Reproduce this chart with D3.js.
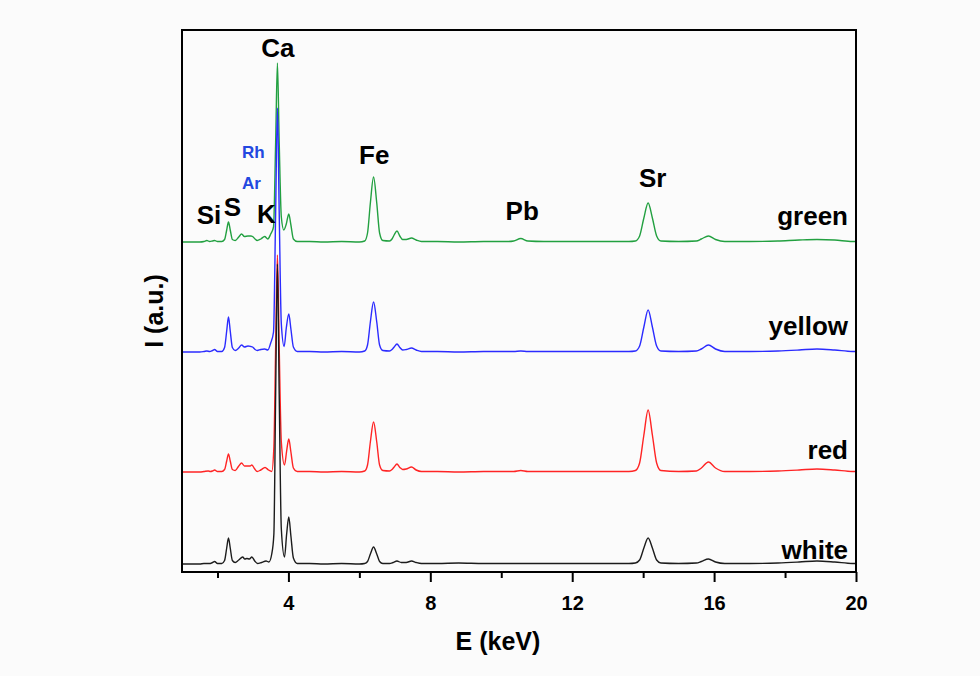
<!DOCTYPE html>
<html>
<head>
<meta charset="utf-8">
<script src="https://cdn.jsdelivr.net/npm/d3@7"></script>
<style>
  body { margin: 0; background: #fbfbfb; }
  svg text { font-family: "Liberation Sans", Arial, sans-serif; font-weight: bold; }
</style>
</head>
<body>
<div id="chart"></div>
<script>
const FRAME_WIDTH = 980;
const FRAME_HEIGHT = 676;
const MARGINS = {left: 182, right: 124, top: 30, bottom: 104};

const VIS_WIDTH = FRAME_WIDTH - MARGINS.left - MARGINS.right;
const VIS_HEIGHT = FRAME_HEIGHT - MARGINS.top - MARGINS.bottom;

// sample names (bottom to top) and vertical offsets of each spectrum
const SAMPLES = ["white", "red", "yellow", "green"];
const OFFSETS = [8, 100, 220, 330];

// spectra: [energy keV, intensity a.u.]
const WHITE = [[1.00,0],[1.50,0],[1.62,0.5],[1.74,0.5],[1.80,0.5],[1.86,1.5],[1.92,2.5],[2.00,0.5],[2.12,0.5],
  [2.20,3.5],[2.26,16],[2.31,26],[2.36,16],[2.42,3.5],[2.50,1.5],
  [2.60,4],[2.71,7],[2.77,5],[2.83,5.5],[2.90,5],[2.97,7],[3.05,3],[3.13,0.5],[3.24,1.5],[3.37,3],[3.45,2],
  [3.53,10],[3.59,30],[3.64,170],[3.69,300],[3.74,170],[3.80,35],[3.89,7],
  [3.95,30],[4.01,47],[4.07,28],[4.14,6],[4.25,0.5],[4.6,0.5],[5.0,0],[5.5,0.5],[6.0,0],
  [6.15,0.5],[6.23,2.5],[6.31,10],[6.40,17],[6.49,10],[6.57,2.5],[6.66,0.5],[6.85,0.5],
  [6.95,1.5],[7.06,3],[7.18,1.5],[7.32,1.5],[7.47,3],[7.60,1.5],[7.75,0.5],[8.2,0.5],[8.8,1],[9.5,0.5],[10.2,0.5],
  [10.55,0.5],[11.2,0.5],[12,0.5],[13,0.5],[13.6,0.5],
  [13.78,1],[13.90,4],[14.02,16],[14.14,26],[14.26,16],[14.38,4],[14.50,1],[15.0,0.5],[15.5,1],
  [15.64,2.5],[15.84,5],[16.04,2],[16.3,0.5],[17.0,0.5],[17.8,1],[18.4,2],[18.9,3],[19.4,2],[19.9,0.5],[20,0.5]];

const RED = [[1.00,0],[1.50,0],[1.62,0.5],[1.74,1],[1.80,0.5],[1.86,1],[1.92,2],[2.00,0.5],[2.12,0.5],
  [2.20,2.5],[2.26,11],[2.31,18],[2.36,11],[2.42,2.5],[2.50,1.5],
  [2.60,6],[2.68,9],[2.76,6],[2.86,6],[2.92,6],[2.97,7],[3.05,3],[3.12,0.5],[3.22,2],[3.34,4.5],[3.44,2],
  [3.53,0.5],[3.59,25],[3.64,125],[3.69,217],[3.74,125],[3.80,30],[3.89,7],
  [3.95,21],[4.01,33],[4.07,20],[4.14,4],[4.25,0.5],[4.6,0.5],[5.0,0],[5.5,0.5],[6.0,0],
  [6.15,1],[6.23,7],[6.31,30],[6.40,50],[6.49,30],[6.57,7],[6.66,1.5],[6.85,1],
  [6.92,2.5],[6.98,5],[7.06,8],[7.14,4.5],[7.22,2.5],[7.32,3],[7.47,5],[7.60,2],[7.75,0.5],[8.2,0.5],[8.8,0],[9.5,0.5],[10.2,0.5],
  [10.35,0.5],[10.55,1.5],[10.75,0.5],[11.2,0.5],[12,0.5],[13,0.5],[13.6,0.5],
  [13.78,1.5],[13.90,9],[14.02,37],[14.14,62],[14.26,37],[14.38,9],[14.50,1.5],[15.0,0.5],[15.5,1],
  [15.64,4],[15.84,10],[16.04,4],[16.3,0.5],[17.0,0.5],[17.8,1],[18.4,2],[18.9,3],[19.4,2],[19.9,0.5],[20,0.5]];

const YELLOW = [[1.00,0],[1.50,0],[1.62,0.5],[1.70,1],[1.78,0.5],[1.86,1.5],[1.92,2.5],[2.00,0.5],[2.12,0.5],
  [2.20,4.5],[2.26,21],[2.31,35],[2.36,21],[2.42,4.5],[2.50,1.5],
  [2.60,4],[2.68,7],[2.76,5],[2.86,6],[2.94,5.5],[2.99,5],[3.06,2.5],[3.12,1.5],[3.22,2.5],[3.33,3],[3.42,2],
  [3.50,9],[3.58,20],[3.64,140],[3.69,244],[3.74,140],[3.80,28],[3.88,5.5],
  [3.94,24],[4.01,38],[4.07,23],[4.14,5],[4.25,0.5],[4.6,0.5],[5.0,0],[5.5,0.5],[6.0,0],
  [6.15,1],[6.23,7],[6.31,30],[6.40,50],[6.49,30],[6.57,7],[6.66,1.5],[6.85,1],
  [6.92,2.5],[6.98,5],[7.06,8],[7.14,4.5],[7.22,2],[7.32,2.5],[7.47,4],[7.60,2],[7.75,0.5],[8.2,0.5],[8.8,0],[9.5,0.5],[10.2,0.5],
  [10.35,0.5],[10.55,1],[10.75,0.5],[11.2,0.5],[12,0.5],[13,0.5],[13.6,0.5],
  [13.78,1],[13.90,6],[14.02,25],[14.14,42],[14.26,25],[14.38,6],[14.50,1],[15.0,0.5],[15.5,1],
  [15.64,3],[15.84,7],[16.04,3],[16.3,0.5],[17.0,0.5],[17.8,1],[18.4,2],[18.9,3],[19.4,2],[19.9,0.5],[20,0.5]];

const GREEN = [[1.00,0],[1.50,0],[1.62,0.5],[1.70,1.5],[1.78,0.5],[1.86,1],[1.92,1.5],[2.00,0.5],[2.12,0.5],
  [2.20,2.5],[2.26,12],[2.31,20],[2.36,12],[2.42,2.5],[2.50,1.5],
  [2.60,5],[2.68,8],[2.76,5.5],[2.86,6],[2.94,6],[2.99,5.5],[3.06,3],[3.12,1.5],[3.22,3],[3.33,5.5],[3.42,3],
  [3.50,8],[3.58,15],[3.64,100],[3.69,179],[3.74,100],[3.80,25],[3.87,12],
  [3.94,18],[4.01,28],[4.07,17],[4.14,3],[4.25,0.5],[4.6,0.5],[5.0,0],[5.5,0.5],[6.0,0],
  [6.15,1],[6.23,9],[6.31,39],[6.40,65],[6.49,39],[6.57,9],[6.66,1.5],[6.85,1],
  [6.92,3],[6.98,7],[7.06,11],[7.14,6],[7.22,2.5],[7.32,2.5],[7.47,4],[7.60,2],[7.75,0.5],[8.2,0.5],[8.8,0],[9.5,0.5],[10.2,0.5],
  [10.35,1],[10.55,3.5],[10.75,1],[11.2,0.5],[12,0.5],[13,0.5],[13.6,0.5],
  [13.78,1],[13.90,6],[14.02,24],[14.14,39],[14.26,24],[14.38,6],[14.50,1],[15.0,0.5],[15.5,1],
  [15.64,3],[15.84,6],[16.04,2.5],[16.3,0.5],[17.0,0.5],[17.8,1],[18.4,2],[18.9,2.5],[19.4,2],[19.9,0.5],[20,0.5]];

const SPECTRA = [WHITE, RED, YELLOW, GREEN];

// element labels and where they sit [energy, intensity]
const ELEMENTS = ["Si", "S", "K", "Ca", "Fe", "Pb", "Sr"];
const ELEMENT_POS = [[1.76, 348], [2.42, 356], [3.38, 349], [3.70, 515], [6.42, 408], [10.59, 352], [14.27, 385]];
const EXTRA = ["Rh", "Ar"];
const EXTRA_POS = [[2.69, 414], [2.69, 383]];

const X_TICKS = [4, 8, 12, 16, 20];
const X_MINOR = [2, 6, 10, 14, 18];

const COLORS = ["#1c1c1c", "#ff2424", "#2b2bff", "#22a040"];

const FRAME = d3.select("#chart")
                .append("svg")
                  .attr("width", FRAME_WIDTH)
                  .attr("height", FRAME_HEIGHT);

const X_SCALE = d3.scaleLinear()
                  .domain([1, 20])
                  .range([0, VIS_WIDTH]);

const Y_SCALE = d3.scaleLinear()
                  .domain([0, 542])
                  .range([VIS_HEIGHT, 0]);

const G = FRAME.append("g")
               .attr("transform", "translate(" + MARGINS.left + "," + MARGINS.top + ")");

// spectra, top one drawn first
[3, 2, 1, 0].forEach((i) => {
  const line = d3.line()
                 .x((d) => X_SCALE(d[0]))
                 .y((d) => Y_SCALE(d[1] + OFFSETS[i]))
                 .curve(d3.curveMonotoneX);
  G.append("path")
     .datum(SPECTRA[i])
     .attr("d", line)
     .attr("fill", "none")
     .attr("stroke", COLORS[i])
     .attr("stroke-width", 1.4);
});

// frame
G.append("rect")
   .attr("x", 0)
   .attr("y", 0)
   .attr("width", VIS_WIDTH)
   .attr("height", VIS_HEIGHT)
   .attr("fill", "none")
   .attr("stroke", "#000")
   .attr("stroke-width", 2);

// x axis: major + minor ticks
const XAXIS = G.append("g")
               .attr("transform", "translate(0," + VIS_HEIGHT + ")")
               .call(d3.axisBottom(X_SCALE).tickValues(X_TICKS).tickSize(10).tickPadding(14));
XAXIS.select(".domain").remove();
XAXIS.selectAll("line").attr("stroke-width", 2);
XAXIS.selectAll("text").attr("font-size", "20px").attr("fill", "#000");

const XMINOR = G.append("g")
                .attr("transform", "translate(0," + VIS_HEIGHT + ")")
                .call(d3.axisBottom(X_SCALE).tickValues(X_MINOR).tickSize(6).tickFormat(""));
XMINOR.select(".domain").remove();
XMINOR.selectAll("line").attr("stroke-width", 2);

// axis titles
FRAME.append("text")
     .attr("x", 498)
     .attr("y", 650)
     .attr("text-anchor", "middle")
     .attr("font-size", "25px")
     .text("E (keV)");

FRAME.append("text")
     .attr("transform", "translate(163,311) rotate(-90)")
     .attr("text-anchor", "middle")
     .attr("font-size", "25px")
     .text("I (a.u.)");

// element labels
G.selectAll(".elem")
   .data(ELEMENTS)
   .enter()
   .append("text")
     .attr("class", "elem")
     .attr("x", (d, i) => X_SCALE(ELEMENT_POS[i][0]))
     .attr("y", (d, i) => Y_SCALE(ELEMENT_POS[i][1]))
     .attr("text-anchor", "middle")
     .attr("font-size", "26px")
     .text((d) => d);

G.selectAll(".extra")
   .data(EXTRA)
   .enter()
   .append("text")
     .attr("class", "extra")
     .attr("x", (d, i) => X_SCALE(EXTRA_POS[i][0]))
     .attr("y", (d, i) => Y_SCALE(EXTRA_POS[i][1]))
     .attr("text-anchor", "start")
     .attr("font-size", "17px")
     .attr("fill", "#2348e0")
     .text((d) => d);

// sample names at right
const NAME_GAP = [5, 13, 17, 17];
G.selectAll(".name")
   .data(SAMPLES)
   .enter()
   .append("text")
     .attr("class", "name")
     .attr("x", VIS_WIDTH - 8)
     .attr("y", (d, i) => Y_SCALE(OFFSETS[i] + NAME_GAP[i]))
     .attr("text-anchor", "end")
     .attr("font-size", "26px")
     .text((d) => d);
</script>
</body>
</html>
